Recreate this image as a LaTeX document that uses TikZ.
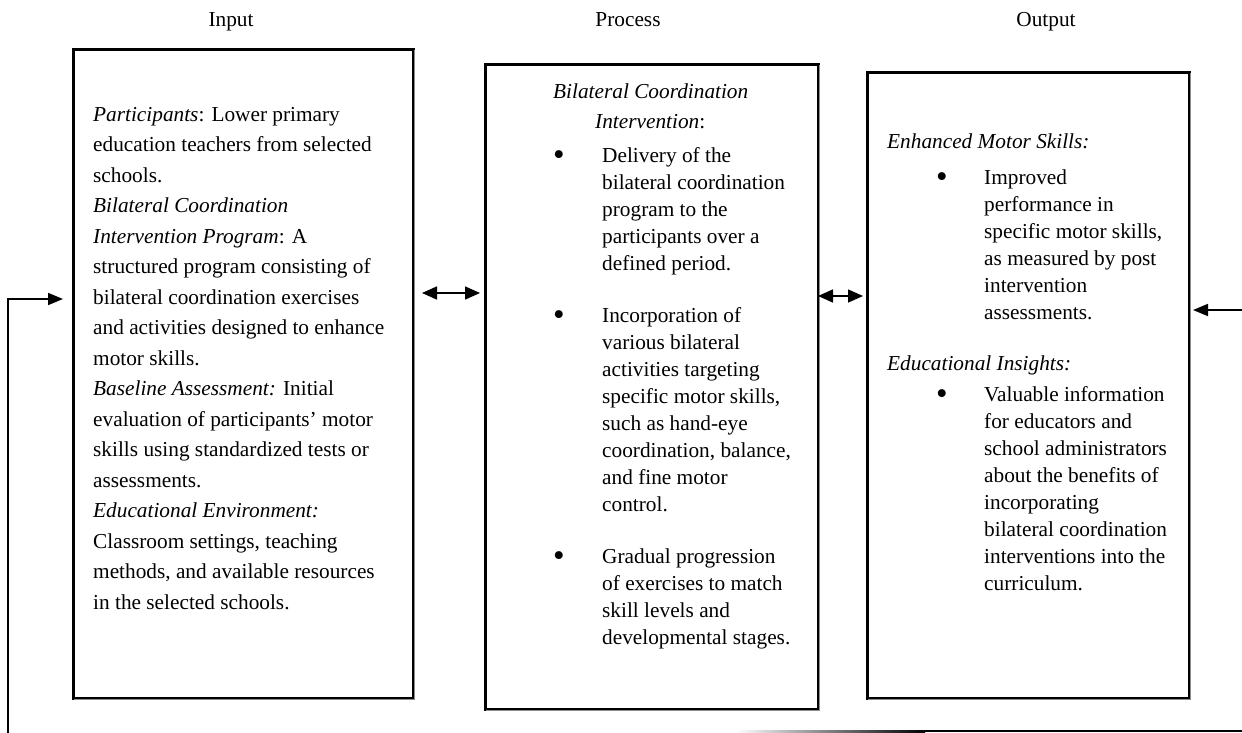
\documentclass[tikz,border=0pt]{standalone}
\usepackage{fontspec}
\setmainfont{Liberation Serif}
\usetikzlibrary{arrows.meta}
\newcommand{\FSa}{\fontsize{21.3pt}{30.5pt}\selectfont}
\newcommand{\FSb}{\fontsize{21.3pt}{27pt}\selectfont}
\newcommand{\ST}{\rule{0pt}{17pt}}
\newcommand{\BUL}{\raisebox{-3pt}{\fontsize{33pt}{33pt}\selectfont •}}
\begin{document}
\begin{tikzpicture}[x=1pt,y=-1pt,
  boxst/.style={draw=black,line width=3pt,anchor=north west,inner sep=0pt},
  shadowst/.style={draw=black!45,line width=1.2pt},
  title/.style={font=\FSa,anchor=base,inner sep=0pt},
  txt/.style={font=\FSa,align=left,anchor=north west,inner sep=0pt},
  btxt/.style={font=\FSb,align=left,anchor=north west,inner sep=0pt},
  bul/.style={anchor=base,inner sep=0pt},
  dbl/.style={line width=1.6pt,{Triangle[length=15pt,width=13pt]}-{Triangle[length=15pt,width=13pt]}},
  fb/.style={line width=1.8pt,-{Triangle[length=15pt,width=12pt]}}
]
\useasboundingbox (0,0) rectangle (1242,733);

% titles
\node[title] (tin) at (231,27) {Input};
\node[title] (tpr) at (628,27) {Process};
\node[title] (tout) at (1046,27) {Output};

% boxes
\node[boxst,minimum width=340pt,minimum height=649pt] (inbox) at (72,48) {};
\node[boxst,minimum width=333pt,minimum height=645pt] (prbox) at (484,63) {};
\node[boxst,minimum width=322pt,minimum height=626pt] (outbox) at (866,71) {};
\draw[shadowst] (74,699.5) -- (414.5,699.5) -- (414.5,50);
\draw[shadowst] (486,710.5) -- (819.5,710.5) -- (819.5,65);
\draw[shadowst] (868,699.5) -- (1190.5,699.5) -- (1190.5,73);

% input text
\node[txt] (intext) at (93,104) {\ST\textit{Participants}: Lower primary\\
education teachers from selected\\
schools.\\
\textit{Bilateral Coordination}\\
\textit{Intervention Program}: A\\
structured program consisting of\\
bilateral coordination exercises\\
and activities designed to enhance\\
motor skills.\\
\textit{Baseline Assessment:} Initial\\
evaluation of participants' motor\\
skills using standardized tests or\\
assessments.\\
\textit{Educational Environment:}\\
Classroom settings, teaching\\
methods, and available resources\\
in the selected schools.};

% process text
\node[txt] (prh1) at (553,81) {\ST\textit{Bilateral Coordination}};
\node[txt] (prh2) at (595,111) {\ST\textit{Intervention}:};
\node[bul] (pb1) at (559,162) {\BUL};
\node[btxt] (pt1) at (602,145) {\ST Delivery of the\\
bilateral coordination\\
program to the\\
participants over a\\
defined period.};
\node[bul] (pb2) at (559,322) {\BUL};
\node[btxt] (pt2) at (602,305) {\ST Incorporation of\\
various bilateral\\
activities targeting\\
specific motor skills,\\
such as hand-eye\\
coordination, balance,\\
and fine motor\\
control.};
\node[bul] (pb3) at (559,563) {\BUL};
\node[btxt] (pt3) at (602,546) {\ST Gradual progression\\
of exercises to match\\
skill levels and\\
developmental stages.};

% output text
\node[txt] (oh1) at (887,131) {\ST\textit{Enhanced Motor Skills:}};
\node[bul] (ob1) at (942,184) {\BUL};
\node[btxt] (ot1) at (984,167) {\ST Improved\\
performance in\\
specific motor skills,\\
as measured by post\\
intervention\\
assessments.};
\node[txt] (oh2) at (887,353) {\ST\textit{Educational Insights:}};
\node[bul] (ob2) at (942,401) {\BUL};
\node[btxt] (ot2) at (984,384) {\ST Valuable information\\
for educators and\\
school administrators\\
about the benefits of\\
incorporating\\
bilateral coordination\\
interventions into the\\
curriculum.};

% connectors between boxes
\coordinate (a1) at (422,293);
\coordinate (a2) at (480,293);
\draw[dbl] (a1) -- (a2);
\coordinate (b1) at (818,296);
\coordinate (b2) at (863,296);
\draw[dbl] (b1) -- (b2);

% feedback lines
\coordinate (lfs) at (8,735);
\coordinate (lft) at (63,299);
\draw[fb] (lfs) |- (lft);
\coordinate (rfs) at (1243,310);
\coordinate (rft) at (1193,310);
\draw[fb] (rfs) -- (rft);
\shade[left color=white,right color=black] (735,730) rectangle (925,732.4);
\fill[black] (925,730) rectangle (1242,732.4);
\end{tikzpicture}
\end{document}
